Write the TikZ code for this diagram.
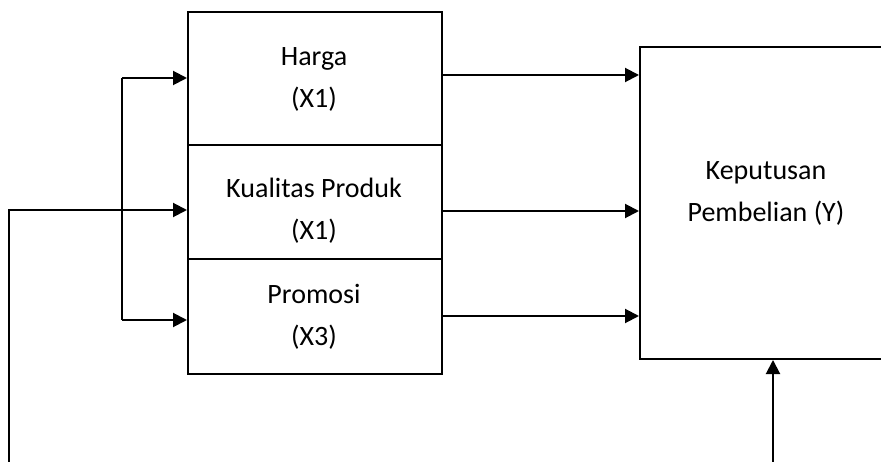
\documentclass[tikz,border=0pt]{standalone}
\usepackage{fontspec}
\setmainfont{Carlito}
\usetikzlibrary{arrows.meta}
\tikzset{
  box/.style={draw, line width=2pt, anchor=north west, inner sep=0pt},
  lbl/.style={align=center, inner sep=0pt, font=\fontsize{28pt}{42pt}\selectfont},
  wire/.style={line width=2pt},
  arr/.style={line width=2pt, -{Triangle[length=14pt,width=14pt]}},
}
\begin{document}
\begin{tikzpicture}[x=1pt,y=-1pt]
\clip (0,0) rectangle (881,462);
\useasboundingbox (0,0) rectangle (881,462);
\node[box, minimum width=254pt, minimum height=133pt] (H) at (187,11) {};
\node[box, minimum width=254pt, minimum height=114pt] (K) at (187,144) {};
\node[box, minimum width=254pt, minimum height=115pt] (P) at (187,258) {};
\node[box, minimum width=260pt, minimum height=312pt] (Y) at (639,46) {};
\node[lbl] (Ht) at (314,79) {Harga\\(X1)};
\node[lbl] (Kt) at (314,211) {Kualitas Produk\\(X1)};
\node[lbl] (Pt) at (314,317) {Promosi\\(X3)};
\node[lbl] (Yt) at (766,193) {Keputusan\\Pembelian (Y)};
\coordinate (bt) at (122,78);
\coordinate (bb) at (122,320);
\coordinate (kb) at (9,462);
\coordinate (yb) at (773,462);
\draw[wire] (bt) -- (bb);
\draw[arr] (bt) -- (bt -| H.west);
\draw[arr] (bb) -- (bb -| P.west);
\draw[arr] (kb) |- (K.west |- 0,210);
\draw[arr] (H.east |- 0,75) -- (Y.west |- 0,75);
\draw[arr] (K.east |- 0,211) -- (Y.west |- 0,211);
\draw[arr] (P.east |- 0,316) -- (Y.west |- 0,316);
\draw[arr] (yb) -- (yb |- Y.south);
\end{tikzpicture}
\end{document}
